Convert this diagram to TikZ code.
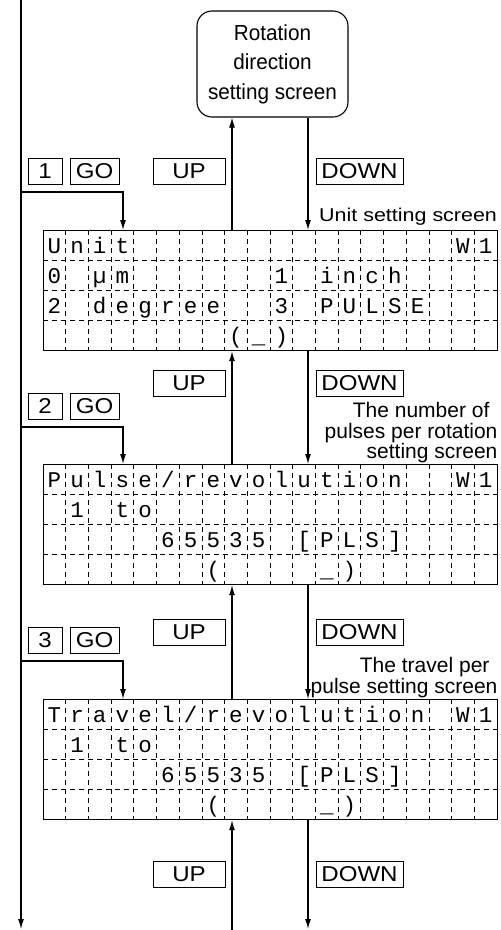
\documentclass[tikz,border=0pt]{standalone}
\usepackage{fontspec}
\setmainfont{Liberation Sans}
\newfontfamily\lcdfont{Liberation Mono}
\newfontfamily\keyfont[FakeStretch=1.12]{Liberation Sans}
\newfontfamily\rotfont[FakeStretch=0.95]{Liberation Sans}
\newfontfamily\unitfont[FakeStretch=1.16]{Liberation Sans}
\usetikzlibrary{arrows.meta}

% dashed LCD grid: #1 name, #2 top y
\newcommand\lcdgrid[2]{%
  \foreach \i in {1,...,19} \draw[gridline] ({43+\i*22.7},{#2}) -- ({43+\i*22.7},{#2+120});
  \foreach \j in {1,2,3} \draw[gridline] (43,{#2+\j*30}) -- (497,{#2+\j*30});
  \node[screen] (#1) at (43,#2) {};
}
% characters: #1 screen top, #2 row, #3 first column, #4 list
\newcommand\lcdline[4]{%
  \foreach \c [count=\k from #3] in {#4}
    \node[cell] at ({43+(\k+0.5)*22.7},{#1+#2*30+23}) {\c};
}

\begin{document}
\begin{tikzpicture}[x=1pt,y=-1pt,line width=1.1pt,
  arr/.style={-{Latex[length=10pt,width=6pt]}},
  keybox/.style={draw,line width=1pt,minimum height=26pt,inner sep=0pt,font=\keyfont\fontsize{21.5}{21.5}\selectfont},
  screen/.style={draw,line width=1.2pt,minimum width=454pt,minimum height=120pt,inner sep=0pt,anchor=north west},
  gridline/.style={line width=0.8pt,dash pattern=on 5pt off 4pt},
  cell/.style={font=\lcdfont\fontsize{22.5}{22.5}\selectfont,inner sep=0pt,anchor=base},
  lbl/.style={font=\fontsize{21}{21}\selectfont,inner sep=0pt}
]
\useasboundingbox (0,0) rectangle (501,930);

% rotation direction screen
\node[draw,rounded corners=15pt,minimum width=151pt,minimum height=106pt,inner sep=0pt,
      align=center,font=\rotfont\fontsize{21.8}{29.5}\selectfont] (rot) at (272.5,64)
      {Rotation\\direction\\setting screen};

% screens
\lcdgrid{u}{230}
\lcdgrid{p}{464}
\lcdgrid{t}{699}

% Unit screen text
\lcdline{230}{0}{0}{U,n,i,t}
\lcdline{230}{0}{18}{W,1}
\lcdline{230}{1}{0}{0}
\lcdline{230}{1}{2}{µ,m}
\lcdline{230}{1}{10}{1}
\lcdline{230}{1}{12}{i,n,c,h}
\lcdline{230}{2}{0}{2}
\lcdline{230}{2}{2}{d,e,g,r,e,e}
\lcdline{230}{2}{10}{3}
\lcdline{230}{2}{12}{P,U,L,S,E}
\lcdline{230}{3}{8}{{(},\_,{)}}

% Pulse screen text
\lcdline{464}{0}{0}{P,u,l,s,e,/,r,e,v,o,l,u,t,i,o,n}
\lcdline{464}{0}{18}{W,1}
\lcdline{464}{1}{1}{1}
\lcdline{464}{1}{3}{t,o}
\lcdline{464}{2}{5}{6,5,5,3,5}
\lcdline{464}{2}{11}{{[},P,L,S,{]}}
\lcdline{464}{3}{7}{{(}}
\lcdline{464}{3}{12}{\_,{)}}

% Travel screen text
\lcdline{699}{0}{0}{T,r,a,v,e,l,/,r,e,v,o,l,u,t,i,o,n}
\lcdline{699}{0}{18}{W,1}
\lcdline{699}{1}{1}{1}
\lcdline{699}{1}{3}{t,o}
\lcdline{699}{2}{5}{6,5,5,3,5}
\lcdline{699}{2}{11}{{[},P,L,S,{]}}
\lcdline{699}{3}{7}{{(}}
\lcdline{699}{3}{12}{\_,{)}}

% key boxes
\node[keybox,minimum width=34pt] (k1) at (45,171) {1};
\node[keybox,minimum width=49pt] (g1) at (94.5,171) {GO};
\node[keybox,minimum width=72pt] (up1) at (189,171) {UP};
\node[keybox,minimum width=87pt] (dn1) at (359.5,171) {DOWN};

\node[keybox,minimum width=34pt] (k2) at (45,406) {2};
\node[keybox,minimum width=49pt] (g2) at (94.5,406) {GO};
\node[keybox,minimum width=72pt] (up2) at (189,383) {UP};
\node[keybox,minimum width=87pt] (dn2) at (359.5,383) {DOWN};

\node[keybox,minimum width=34pt] (k3) at (45,640) {3};
\node[keybox,minimum width=49pt] (g3) at (94.5,640) {GO};
\node[keybox,minimum width=72pt] (up3) at (189,632.5) {UP};
\node[keybox,minimum width=87pt] (dn3) at (359.5,632.5) {DOWN};

\node[keybox,minimum width=72pt] (up4) at (189,874) {UP};
\node[keybox,minimum width=87pt] (dn4) at (359.5,874) {DOWN};

% screen labels
\node[lbl,anchor=base east,font=\unitfont\fontsize{18.5}{18.5}\selectfont] (lu) at (497.5,221) {Unit setting screen};
\node[lbl,anchor=north east,align=right,font=\fontsize{21}{20.5}\selectfont] (lp) at (498,402)
  {The number of\hspace*{8pt}\\pulses per rotation\hspace*{8pt}\\setting screen};
\node[lbl,anchor=north east,align=right,font=\fontsize{21}{18.5}\selectfont] (lt) at (498,657)
  {The travel per\hspace*{8pt}\\pulse setting screen};

% coordinates
\coordinate (upx) at (232,0);
\coordinate (dnx) at (308,0);
\coordinate (ltop) at (21,0);
\coordinate (lbot) at (21,929);
\coordinate (b1) at (21,192);
\coordinate (b2) at (21,427);
\coordinate (b3) at (21,661);
\coordinate (ubot) at (232,930);
\coordinate (dbot) at (308,929);

% left GO line
\draw[arr] (ltop) -- (lbot);
\draw[arr] (b1) -| ([xshift=80pt]u.north west);
\draw[arr] (b2) -| ([xshift=80pt]p.north west);
\draw[arr] (b3) -| ([xshift=80pt]t.north west);

% UP / DOWN connectors
\draw[arr] (u.north -| upx) -- (rot.south -| upx);
\draw[arr] (rot.south -| dnx) -- (u.north -| dnx);
\draw[arr] (p.north -| upx) -- (u.south -| upx);
\draw[arr] (u.south -| dnx) -- (p.north -| dnx);
\draw[arr] (t.north -| upx) -- (p.south -| upx);
\draw[arr] (p.south -| dnx) -- (t.north -| dnx);
\draw[arr] (ubot) -- (t.south -| upx);
\draw[arr] (t.south -| dnx) -- (dbot);
\end{tikzpicture}
\end{document}
